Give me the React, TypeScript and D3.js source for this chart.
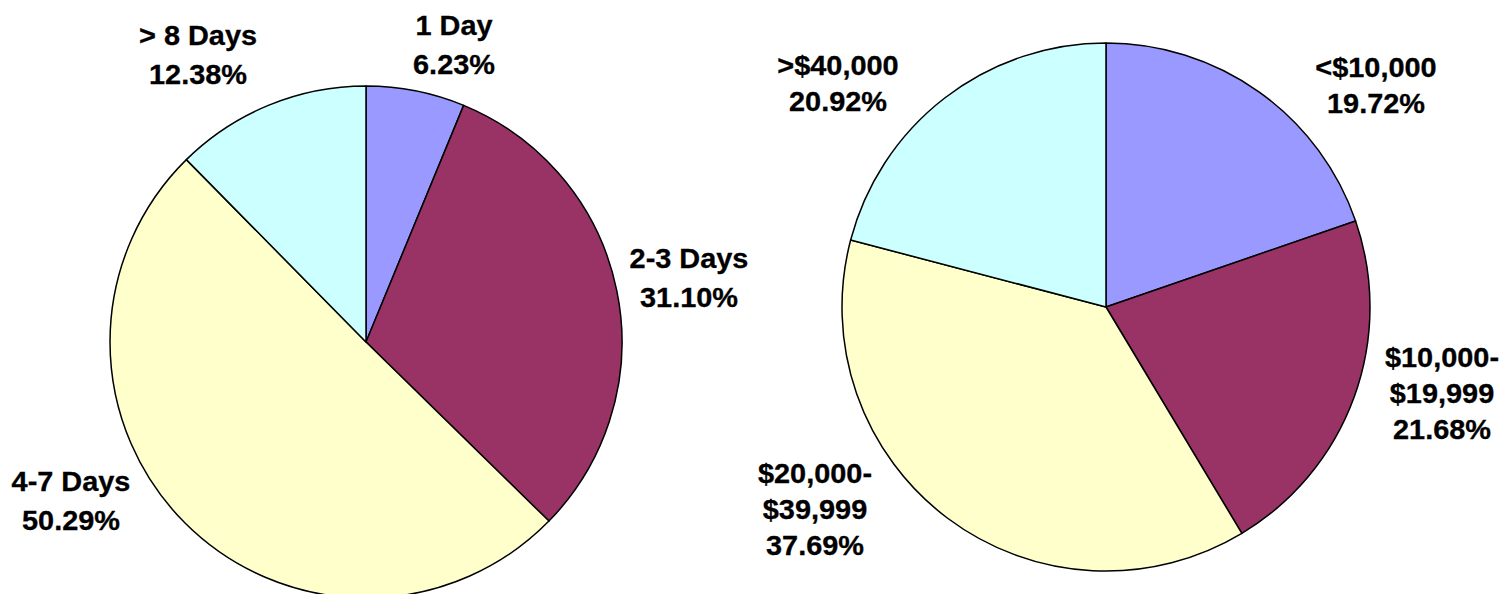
import React from "react";
import * as d3 from "d3";

// ---- Data ----
const durationCategories = ["1 Day", "2-3 Days", "4-7 Days", "> 8 Days"];
const durationValues = [6.23, 31.1, 50.29, 12.38];

const costCategories = ["<$10,000", "$10,000-\n$19,999", "$20,000-\n$39,999", ">$40,000"];
const costValues = [19.72, 21.68, 37.69, 20.92];

const sliceColors = ["#9999FF", "#993366", "#FFFFCC", "#CCFFFF"];

// ---- Layout (label anchors relative to pie center, first baseline) ----
const leftPie = { cx: 366, cy: 342, r: 256, lineGap: 39 };
const rightPie = { cx: 1106, cy: 307, r: 264, lineGap: 36 };
const leftLabelOffsets = [
  [88, -307],
  [323, -74],
  [-295, 149],
  [-168, -297],
];
const rightLabelOffsets = [
  [270, -230],
  [336, 60],
  [-291, 176],
  [-268, -232],
];

const FONT = "'Liberation Sans', Arial, Helvetica, sans-serif";

type PieProps = {
  categories: string[];
  values: number[];
  layout: { cx: number; cy: number; r: number; lineGap: number };
  offsets: number[][];
};

function Pie({ categories, values, layout, offsets }: PieProps) {
  const pie = d3
    .pie<number>()
    .sort(null)
    .value((d) => d)
    .startAngle(0)
    .endAngle(2 * Math.PI);
  const arcs = pie(values);
  const arc = d3.arc<d3.PieArcDatum<number>>().innerRadius(0).outerRadius(layout.r);
  return (
    <g transform={`translate(${layout.cx},${layout.cy})`}>
      {arcs.map((a, i) => (
        <path
          key={i}
          d={arc(a) || ""}
          fill={sliceColors[i]}
          stroke="#000"
          strokeWidth={1.5}
          strokeLinejoin="round"
        />
      ))}
      {arcs.map((a, i) => {
        const lines = categories[i].split("\n").concat([values[i].toFixed(2) + "%"]);
        const [dx, dy] = offsets[i];
        return (
          <g key={"l" + i} transform={`translate(${dx},${dy}) scale(1.07,1)`}>
            {lines.map((t, j) => (
              <text
                key={j}
                x={0}
                y={j * layout.lineGap}
                textAnchor="middle"
                fontFamily={FONT}
                fontWeight="bold"
                fontSize={27}
                fill="#000"
                stroke="#000"
                strokeWidth={0.3}
              >
                {t}
              </text>
            ))}
          </g>
        );
      })}
    </g>
  );
}

export default function App() {
  return (
    <svg
      width={1500}
      height={594}
      style={{ position: "absolute", left: 0, top: 0, background: "#fff" }}
    >
      <rect x={0} y={0} width={1500} height={594} fill="#fff" />
      <Pie
        categories={durationCategories}
        values={durationValues}
        layout={leftPie}
        offsets={leftLabelOffsets}
      />
      <Pie
        categories={costCategories}
        values={costValues}
        layout={rightPie}
        offsets={rightLabelOffsets}
      />
    </svg>
  );
}
